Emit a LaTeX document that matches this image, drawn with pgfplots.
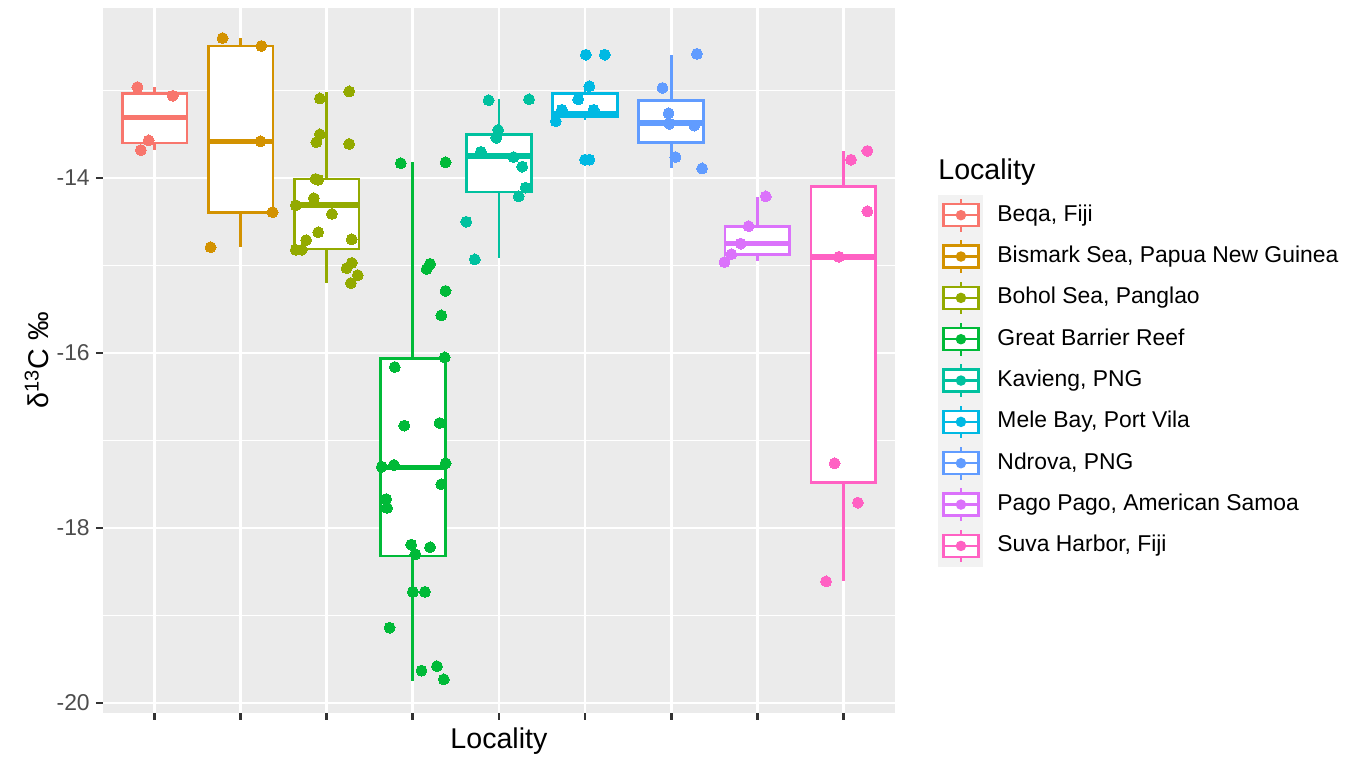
\documentclass[border=0pt]{standalone}
\usepackage{pgfplots}
\pgfplotsset{compat=1.18}
\usepgfplotslibrary{statistics}
\usepackage{fontspec}
\setmainfont{Liberation Sans}
\definecolor{c1}{HTML}{F8766D}
\definecolor{c2}{HTML}{D39200}
\definecolor{c3}{HTML}{93AA00}
\definecolor{c4}{HTML}{00BA38}
\definecolor{c5}{HTML}{00C19F}
\definecolor{c6}{HTML}{00B9E3}
\definecolor{c7}{HTML}{619CFF}
\definecolor{c8}{HTML}{DB72FB}
\definecolor{c9}{HTML}{FF61C3}
\definecolor{panelbg}{HTML}{EBEBEB}
\definecolor{legbg}{HTML}{F2F2F2}
\definecolor{tickcol}{HTML}{333333}
\definecolor{labcol}{HTML}{4D4D4D}
\begin{document}
\begin{tikzpicture}
\path[use as bounding box] (0,0) rectangle (522.3pt,291.9pt);
\begin{axis}[
  at={(39.6pt,17.7pt)}, anchor=south west, scale only axis,
  width=304.6pt, height=271.1pt,
  xmin=0.4, xmax=9.6, ymin=-20.114, ymax=-12.057,
  axis background/.style={fill=panelbg},
  axis line style={draw=none},
  xtick={1,2,3,4,5,6,7,8,9}, xticklabels={},
  ytick={-20,-18,-16,-14}, yticklabels={-20,-18,-16,-14},
  minor ytick={-19,-17,-15,-13},
  grid=both,
  major grid style={white, line width=1.07pt},
  minor grid style={white, line width=0.53pt},
  tick align=outside, xtick pos=bottom, ytick pos=left,
  major tick length=2.7pt, minor tick length=0pt,
  major tick style={tickcol, line width=1.07pt},
  yticklabel style={font=\fontsize{8.8}{10}\selectfont, text=labcol, inner sep=0pt, xshift=-2.2pt},
  boxplot/draw direction=y,
  boxplot/whisker extend=0,
  boxplot/every median/.style={line width=2.14pt},
  legend image code/.code={
    \fill[legbg, draw=none] (0pt,-7.95pt) rectangle (17.3pt,7.95pt);
    \draw[#1, fill=white, line width=0.9pt] (1.9pt,-4.2pt) rectangle (15.4pt,4.2pt);
    \draw[#1, line width=0.9pt] (8.65pt,4.2pt)--(8.65pt,6.3pt) (8.65pt,-4.2pt)--(8.65pt,-6.3pt) (1.9pt,0pt)--(15.4pt,0pt);
    \fill[#1] (8.65pt,0pt) circle (1.8pt);
  },
  legend style={at={(1.0543,0.7362)}, anchor=north west, draw=none, fill=none,
    inner sep=0pt, row sep=0pt, column sep=5.4pt,
    nodes={inner sep=0pt, text height=6.4pt, text depth=1.8pt},
    font=\fontsize{8.8}{10}\selectfont},
  legend cell align=left,
  clip=false,
]
% boxes
\addplot[forget plot, draw=c1, fill=white, line width=1.07pt, boxplot prepared={lower whisker=-13.68, lower quartile=-13.60, median=-13.31, upper quartile=-13.035, upper whisker=-12.96, draw position=1, box extend=0.75}] coordinates {};
\addplot[forget plot, draw=c2, fill=white, line width=1.07pt, boxplot prepared={lower whisker=-14.79, lower quartile=-14.39, median=-13.58, upper quartile=-12.49, upper whisker=-12.40, draw position=2, box extend=0.75}] coordinates {};
\addplot[forget plot, draw=c3, fill=white, line width=1.07pt, boxplot prepared={lower whisker=-15.20, lower quartile=-14.81, median=-14.31, upper quartile=-14.01, upper whisker=-13.02, draw position=3, box extend=0.75}] coordinates {};
\addplot[forget plot, draw=c4, fill=white, line width=1.07pt, boxplot prepared={lower whisker=-19.75, lower quartile=-18.32, median=-17.31, upper quartile=-16.06, upper whisker=-13.82, draw position=4, box extend=0.75}] coordinates {};
\addplot[forget plot, draw=c5, fill=white, line width=1.07pt, boxplot prepared={lower whisker=-14.91, lower quartile=-14.16, median=-13.75, upper quartile=-13.50, upper whisker=-13.10, draw position=5, box extend=0.75}] coordinates {};
\addplot[forget plot, draw=c6, fill=white, line width=1.07pt, boxplot prepared={lower whisker=-13.34, lower quartile=-13.30, median=-13.26, upper quartile=-13.03, upper whisker=-12.95, draw position=6, box extend=0.75}] coordinates {};
\addplot[forget plot, draw=c7, fill=white, line width=1.07pt, boxplot prepared={lower whisker=-13.89, lower quartile=-13.59, median=-13.37, upper quartile=-13.11, upper whisker=-12.59, draw position=7, box extend=0.75}] coordinates {};
\addplot[forget plot, draw=c8, fill=white, line width=1.07pt, boxplot prepared={lower whisker=-14.95, lower quartile=-14.87, median=-14.75, upper quartile=-14.55, upper whisker=-14.22, draw position=8, box extend=0.75}] coordinates {};
\addplot[forget plot, draw=c9, fill=white, line width=1.07pt, boxplot prepared={lower whisker=-18.61, lower quartile=-17.48, median=-14.90, upper quartile=-14.10, upper whisker=-13.69, draw position=9, box extend=0.75}] coordinates {};
% points
\pgfplotsset{pts/.style={forget plot, only marks, color=#1, mark=*, mark size=2.1pt, mark options={draw=#1, fill=#1, line width=0pt}}}
\addplot[pts=c1] coordinates {(0.80,-12.96) (1.21,-13.06) (0.93,-13.57) (0.84,-13.68)};
\addplot[pts=c2] coordinates {(1.79,-12.40) (2.24,-12.49) (2.23,-13.58) (2.37,-14.39) (1.65,-14.79)};
\addplot[pts=c3] coordinates {(3.26,-13.01) (2.92,-13.09) (2.92,-13.50) (2.88,-13.59) (3.26,-13.61) (2.87,-14.01) (2.90,-14.02) (2.85,-14.23) (2.64,-14.31) (3.06,-14.41) (2.90,-14.62) (2.76,-14.71) (3.29,-14.70) (2.64,-14.82) (2.71,-14.82) (3.29,-14.97) (3.23,-15.03) (3.36,-15.11) (3.28,-15.20)};
\addplot[pts=c4] coordinates {(3.86,-13.83) (4.38,-13.82) (4.20,-14.98) (4.16,-15.04) (4.38,-15.29) (4.33,-15.57) (4.37,-16.05) (3.79,-16.16) (3.90,-16.83) (4.31,-16.80) (3.64,-17.30) (3.78,-17.28) (4.38,-17.26) (4.33,-17.50) (3.69,-17.67) (3.70,-17.77) (3.98,-18.19) (4.20,-18.22) (4.03,-18.30) (4.00,-18.73) (4.14,-18.73) (3.73,-19.14) (4.10,-19.63) (4.28,-19.58) (4.36,-19.73)};
\addplot[pts=c5] coordinates {(4.88,-13.11) (5.35,-13.10) (4.99,-13.45) (4.97,-13.54) (4.79,-13.70) (5.17,-13.76) (5.27,-13.87) (5.31,-14.11) (5.23,-14.21) (4.62,-14.50) (4.72,-14.93)};
\addplot[pts=c6] coordinates {(6.01,-12.59) (6.23,-12.59) (6.05,-12.95) (5.92,-13.10) (5.73,-13.22) (6.10,-13.22) (5.66,-13.35) (6.00,-13.79) (6.05,-13.79)};
\addplot[pts=c7] coordinates {(7.30,-12.58) (6.90,-12.97) (6.97,-13.26) (6.98,-13.38) (7.27,-13.40) (7.05,-13.76) (7.36,-13.89)};
\addplot[pts=c8] coordinates {(8.10,-14.21) (7.90,-14.55) (7.81,-14.75) (7.70,-14.87) (7.62,-14.96)};
\addplot[pts=c9] coordinates {(9.28,-13.69) (9.09,-13.79) (9.28,-14.38) (8.95,-14.90) (8.90,-17.26) (9.17,-17.71) (8.80,-18.61)};
% legend
\addlegendimage{color=c1}\addlegendentry{Beqa, Fiji}
\addlegendimage{color=c2}\addlegendentry{Bismark Sea, Papua New Guinea}
\addlegendimage{color=c3}\addlegendentry{Bohol Sea, Panglao}
\addlegendimage{color=c4}\addlegendentry{Great Barrier Reef}
\addlegendimage{color=c5}\addlegendentry{Kavieng, PNG}
\addlegendimage{color=c6}\addlegendentry{Mele Bay, Port Vila}
\addlegendimage{color=c7}\addlegendentry{Ndrova, PNG}
\addlegendimage{color=c8}\addlegendentry{Pago Pago, American Samoa}
\addlegendimage{color=c9}\addlegendentry{Suva Harbor, Fiji}
\end{axis}
\node[anchor=base, font=\fontsize{11}{13}\selectfont] at (191.9pt,4.2pt) {Locality};
\node[anchor=center, rotate=90, font=\fontsize{11}{13}\selectfont] at (14.2pt,153.3pt) {δ\textsuperscript{13}C ‰};
\node[anchor=base west, font=\fontsize{11}{13}\selectfont, inner sep=0pt] at (360.7pt,222.7pt) {Locality};
\end{tikzpicture}
\end{document}
